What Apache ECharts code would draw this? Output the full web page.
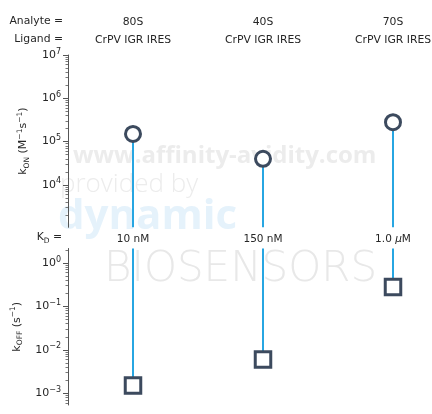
<!DOCTYPE html>
<html>
<head>
<meta charset="utf-8">
<script src="https://cdn.jsdelivr.net/npm/echarts@6/dist/echarts.min.js"></script>
<style>
  html, body { margin: 0; padding: 0; background: #fff; }
  #chart { width: 432px; height: 414px; }
</style>
</head>
<body>
<div id="chart"></div>
<script>
// Binding kinetics per analyte/ligand pair
const analytes = ['80S', '40S', '70S'];
const ligands = ['CrPV IGR IRES', 'CrPV IGR IRES', 'CrPV IGR IRES'];
const konValues = [1.5e5, 4.0e4, 2.8e5];      // association rate, M^-1 s^-1
const koffValues = [1.5e-3, 6.0e-3, 2.8e-1];  // dissociation rate, s^-1

// Decade exponents carrying a label on each log axis
const konLabelExponents = [4, 5, 6, 7];
const koffLabelExponents = [-3, -2, -1, 0];
// Visible exponent ranges of the two panels
const konRange = [3.02, 7];
const koffRange = [-3.27, 0.333];

const TEXT = '#262626';
const AXIS = '#555';
const STEM = '#27a6e2';
const MARK = '#3c4a5e';
const FONT = 'DejaVu Sans';

const log10 = Math.log10;

function minorTicks(lo, hi) {
  const out = [];
  for (let n = Math.floor(lo); n < Math.ceil(hi); n++) {
    for (let k = 2; k <= 9; k++) {
      const v = n + log10(k);
      if (v >= lo && v <= hi) out.push(v);
    }
  }
  return out;
}

function powLabel(v) {
  const e = Math.round(v);
  return '{b|10}{s|' + String(e).replace('-', '\u2212') + '}';
}

function kdText(kd) {
  if (kd < 1e-6 * 0.9995) return { num: String(Math.round(kd * 1e9)), unit: 'nM' };
  return { num: (kd * 1e6).toFixed(1), unit: 'mu' };
}

const labelRich = {
  b: { fontSize: 11, fontFamily: FONT, color: TEXT, lineHeight: 15 },
  s: { fontSize: 8, fontFamily: FONT, color: TEXT, verticalAlign: 'top', lineHeight: 9 }
};

const nameRich = {
  m: { fontSize: 11, fontFamily: FONT, color: TEXT, lineHeight: 15 },
  sub: { fontSize: 7.5, fontFamily: FONT, color: TEXT, verticalAlign: 'bottom', lineHeight: 9 },
  sup: { fontSize: 7.5, fontFamily: FONT, color: TEXT, verticalAlign: 'top', lineHeight: 9 }
};

function majorAxis(gridIndex, range, labels, name) {
  return {
    type: 'value', gridIndex, min: range[0], max: range[1], position: 'left', offset: 65,
    axisLine: { show: true, lineStyle: { color: AXIS, width: 1 } },
    axisTick: { show: true, length: 5, lineStyle: { color: AXIS, width: 1 }, customValues: labels },
    axisLabel: { show: true, margin: 7, customValues: labels, formatter: powLabel, rich: labelRich },
    splitLine: { show: false },
    name, nameLocation: 'middle', nameRotate: 90, nameGap: 36,
    nameTextStyle: { rich: nameRich }
  };
}

function minorAxis(gridIndex, range) {
  return {
    type: 'value', gridIndex, min: range[0], max: range[1], position: 'left', offset: 65,
    axisLine: { show: false },
    axisTick: { show: true, length: 2.5, lineStyle: { color: AXIS, width: 0.8 }, customValues: minorTicks(range[0], range[1]) },
    axisLabel: { show: false },
    splitLine: { show: false }
  };
}

const konData = konValues.map((v, i) => [i, log10(v)]);
const koffData = koffValues.map((v, i) => [i, log10(v)]);

const chart = echarts.init(document.getElementById('chart'), null, { renderer: 'canvas' });

chart.setOption({
  animation: false,
  backgroundColor: '#fff',
  grid: [
    { left: 133, right: 39, top: 55, height: 172.3, containLabel: false, outerBoundsMode: 'none' },
    { left: 133, right: 39, top: 248.5, height: 156.5, containLabel: false, outerBoundsMode: 'none' }
  ],
  xAxis: [
    {
      type: 'category', gridIndex: 0, data: analytes, boundaryGap: false, position: 'top',
      axisLine: { show: false }, axisTick: { show: false }, splitLine: { show: false },
      axisLabel: {
        margin: 6, interval: 0, hideOverlap: false,
        formatter: (val, idx) => '{a|' + val + '}\n{a|' + ligands[idx] + '}',
        rich: { a: { fontSize: 10.8, fontFamily: FONT, color: TEXT, lineHeight: 18, align: 'center' } }
      }
    },
    {
      type: 'category', gridIndex: 1, data: analytes, boundaryGap: false, show: false
    }
  ],
  yAxis: [
    majorAxis(0, konRange, konLabelExponents, '{m|k}{sub|ON}{m| (M}{sup|\u22121}{m|s}{sup|\u22121}{m|)}'),
    minorAxis(0, konRange),
    majorAxis(1, koffRange, koffLabelExponents, '{m|k}{sub|OFF}{m| (s}{sup|\u22121}{m|)}'),
    minorAxis(1, koffRange)
  ],
  graphic: [
    { type: 'text', z: 0, left: 73, top: 144, style: { text: 'www.affinity-avidity.com', font: 'bold 24px "Open Sans"', fill: '#ececec' } },
    { type: 'text', z: 0, left: 60, top: 172, style: { text: 'provided by', font: '300 26px "Open Sans"', fill: '#ececec' } },
    { type: 'text', z: 0, left: 58, top: 196, style: { text: 'dynamic', font: 'bold 42px "Open Sans"', fill: '#e5f2fb' } },
    { type: 'text', z: 0, left: 104, top: 249, style: { text: 'BIOSENSORS', font: '200 42px "DejaVu Sans"', fill: '#e8e8e8' } },
    { type: 'text', right: 432 - 63, top: 16, style: { text: 'Analyte =', font: '10.8px "DejaVu Sans"', fill: TEXT, align: 'right' } },
    { type: 'text', right: 432 - 63, top: 34, style: { text: 'Ligand =', font: '10.8px "DejaVu Sans"', fill: TEXT, align: 'right' } },
    {
      type: 'text', right: 432 - 62, top: 232,
      style: {
        text: '{m|K}{sub|D}{m| =}',
        rich: {
          m: { fontSize: 10.8, fontFamily: FONT, fill: TEXT, lineHeight: 15 },
          sub: { fontSize: 7.5, fontFamily: FONT, fill: TEXT, verticalAlign: 'bottom', lineHeight: 9 }
        }
      }
    }
  ],
  series: [
    {
      // stems from the association rate down to the panel floor
      type: 'custom', xAxisIndex: 0, yAxisIndex: 0, data: konData, z: 3,
      renderItem: (params, api) => {
        const p = api.coord([api.value(0), api.value(1)]);
        const cs = params.coordSys;
        return {
          type: 'line',
          shape: { x1: p[0], y1: p[1], x2: p[0], y2: cs.y + cs.height },
          style: { stroke: STEM, lineWidth: 2 }
        };
      }
    },
    {
      // stems from the panel ceiling down to the dissociation rate, with K_D between panels
      type: 'custom', xAxisIndex: 1, yAxisIndex: 2, data: koffData, z: 3,
      renderItem: (params, api) => {
        const i = params.dataIndex;
        const p = api.coord([api.value(0), api.value(1)]);
        const cs = params.coordSys;
        const kd = kdText(koffValues[i] / konValues[i]);
        const txt = kd.unit === 'nM'
          ? '{t|' + kd.num + ' nM}'
          : '{t|' + kd.num + ' }{i|\u03bc}{t|M}';
        return {
          type: 'group',
          children: [
            {
              type: 'line',
              shape: { x1: p[0], y1: cs.y, x2: p[0], y2: p[1] },
              style: { stroke: STEM, lineWidth: 2 }
            },
            {
              type: 'text',
              x: p[0], y: cs.y - 9.5,
              style: {
                text: txt, align: 'center', verticalAlign: 'middle',
                rich: {
                  t: { fontSize: 10.5, fontFamily: FONT, fill: TEXT },
                  i: { fontSize: 10.5, fontFamily: FONT, fontStyle: 'italic', fill: TEXT }
                }
              }
            }
          ]
        };
      }
    },
    {
      type: 'scatter', xAxisIndex: 0, yAxisIndex: 0, data: konData, z: 5,
      symbol: 'circle', symbolSize: 15,
      itemStyle: { color: '#fff', borderColor: MARK, borderWidth: 3, opacity: 1 }
    },
    {
      type: 'scatter', xAxisIndex: 1, yAxisIndex: 2, data: koffData, z: 5,
      symbol: 'rect', symbolSize: 15.5,
      itemStyle: { color: '#fff', borderColor: MARK, borderWidth: 3, opacity: 1 }
    }
  ]
});
</script>
</body>
</html>
